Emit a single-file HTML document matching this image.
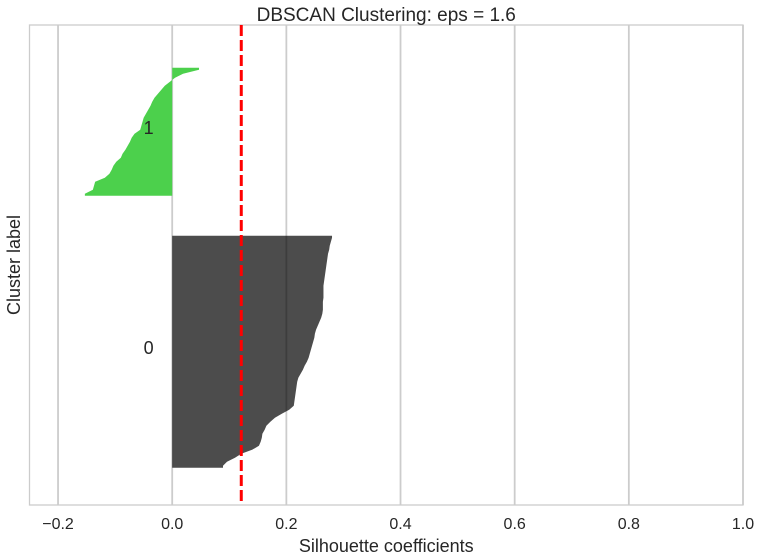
<!DOCTYPE html>
<html><head><meta charset="utf-8"><style>
body{margin:0;background:#fff}
svg{display:block;font-family:"Liberation Sans","DejaVu Sans",sans-serif}
</style></head><body>
<svg id="chart" width="761" height="560"></svg>
<script>
const xTicks=[-0.2,0,0.2,0.4,0.6,0.8,1.0];
const xTickLabels=["\u22120.2","0.0","0.2","0.4","0.6","0.8","1.0"];
const clusterLabels=["0","1"];
const cluster0Values=[0.089,0.096,0.110,0.121,0.140,0.152,0.155,0.157,0.158,0.162,0.165,0.172,0.180,0.192,0.205,0.213,0.214,0.215,0.216,0.217,0.218,0.219,0.221,0.225,0.229,0.232,0.236,0.239,0.241,0.243,0.245,0.247,0.249,0.250,0.252,0.255,0.258,0.261,0.263,0.264,0.264,0.264,0.265,0.265,0.265,0.265,0.266,0.267,0.268,0.269,0.270,0.271,0.272,0.273,0.275,0.276,0.278,0.280];
const cluster1Values=[-0.153,-0.139,-0.137,-0.135,-0.118,-0.110,-0.106,-0.103,-0.098,-0.090,-0.087,-0.082,-0.078,-0.074,-0.071,-0.066,-0.056,-0.054,-0.052,-0.050,-0.046,-0.042,-0.038,-0.035,-0.031,-0.025,-0.019,-0.013,-0.004,0.005,0.019,0.047];
const avgScore=0.121;
const clusterColors=["rgba(0,0,0,0.7)","#4cd04c"];

const NS="http://www.w3.org/2000/svg";
const svg=document.getElementById('chart');
const L=29.5,R=743,T=25,B=505;
const xMin=-0.25,xMax=1.0;
const X=v=>L+(v-xMin)/(xMax-xMin)*(R-L);
const series=[cluster0Values,cluster1Values];
const totalRows=10+series.reduce((s,a)=>s+a.length+10,0);
const Y=v=>B-v/totalRows*(B-T);
function mk(tag,attrs,parent){const e=document.createElementNS(NS,tag);for(const k in attrs)e.setAttribute(k,attrs[k]);(parent||svg).appendChild(e);return e;}

const frame=mk('rect',{x:L,y:T,width:R-L,height:B-T,fill:'#fff',stroke:'#ccc','stroke-width':1.3});



xTicks.forEach((t,i)=>{
  const g=mk('line',{x1:X(t),x2:X(t),y1:T,y2:B,stroke:'#ccc','stroke-width':1.8});
  
  
  const lb=mk('text',{x:X(t),y:529,'text-anchor':'middle','font-size':16,fill:'#262626'});
  lb.textContent=xTickLabels[i];
  
  
});

let yLower=9.3;
series.forEach((vals,ci)=>{
  let pts=[[X(0),Y(yLower)],[X(vals[0]),Y(yLower)]];
  vals.forEach((v,i)=>{pts.push([X(v),Y(yLower+i+0.5)]);});
  pts.push([X(vals[vals.length-1]),Y(yLower+vals.length)]);
  pts.push([X(0),Y(yLower+vals.length)]);
  const p=mk('polygon',{points:pts.map(q=>q.join(',')).join(' '),fill:clusterColors[ci]});
  
  
  const t=mk('text',{x:X(-0.05),y:Y(yLower+vals.length/2)+2,'font-size':18,fill:'#262626'});
  t.textContent=clusterLabels[ci];
  
  
  yLower+=vals.length+10;
});

const avg=mk('line',{x1:X(avgScore),x2:X(avgScore),y1:T,y2:B,stroke:'#ff0000','stroke-width':3,'stroke-dasharray':'11,4'});



const title=mk('text',{x:(L+R)/2,y:21,'text-anchor':'middle','font-size':19,fill:'#262626'});
title.textContent='DBSCAN Clustering: eps = 1.6';


const xl=mk('text',{x:(L+R)/2,y:552,'text-anchor':'middle','font-size':18,fill:'#262626'});
xl.textContent='Silhouette coefficients';


const yl=mk('text',{x:0,y:0,'text-anchor':'middle','font-size':18,fill:'#262626',transform:'translate(20,265) rotate(-90)'});
yl.textContent='Cluster label';


</script>
</body></html>
